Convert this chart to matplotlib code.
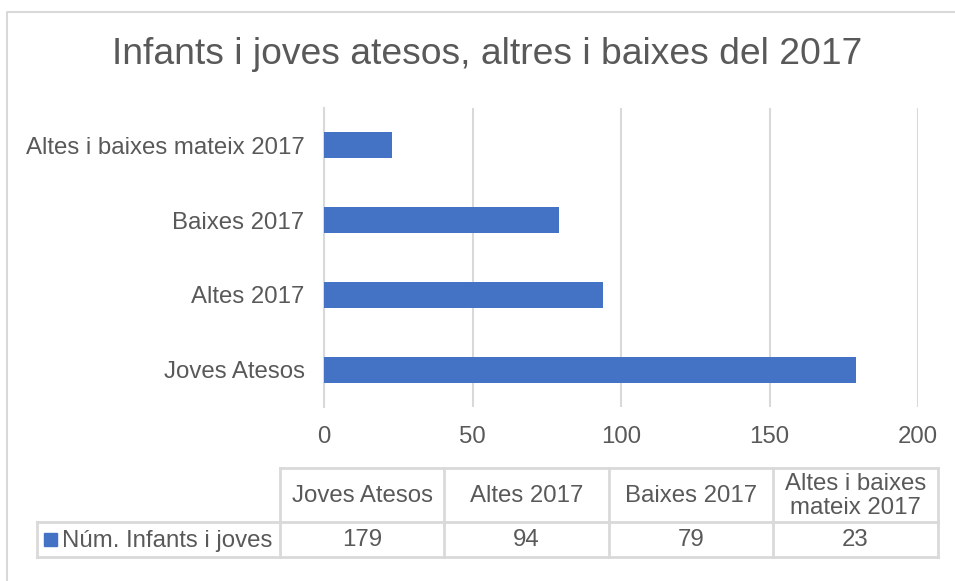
import textwrap
import matplotlib.pyplot as plt
from matplotlib.patches import Rectangle

# data
categories = ["Joves Atesos", "Altes 2017", "Baixes 2017", "Altes i baixes mateix 2017"]
values = [179, 94, 79, 23]
series_name = "Núm. Infants i joves"
title = "Infants i joves atesos, altres i baixes del 2017"
xticks = [0, 50, 100, 150, 200]

W, H = 955, 581
bar_color = "#4472C4"
text_color = "#595959"
grid_color = "#D9D9D9"

plt.rcParams['font.family'] = ['Liberation Sans', 'DejaVu Sans']

fig = plt.figure(figsize=(W / 100, H / 100), dpi=100)

# overlay in pixel coordinates for border, title and data table
ov = fig.add_axes([0, 0, 1, 1])
ov.set_xlim(0, W)
ov.set_ylim(H, 0)
ov.axis('off')

# chart area border (cropped at right and bottom)
ov.plot([7, 7, W + 5], [H + 5, 12, 12], color=grid_color, lw=1.5, solid_capstyle='butt')

ov.text(487, 55, title, ha='center', va='center', fontsize=26.8, color=text_color)

# bar plot
left, right, top, bottom = 324, 918, 108, 407
ax = fig.add_axes([left / W, 1 - bottom / H, (right - left) / W, (bottom - top) / H])
ypos = list(range(len(categories)))
ax.barh(ypos, values, height=0.35, color=bar_color, zorder=3)
ax.set_ylim(-0.5, len(categories) - 0.5)
ax.set_xlim(xticks[0], xticks[-1])
ax.set_xticks(xticks)
ax.set_yticks(ypos)
ax.set_yticklabels(categories)
ax.grid(axis='x', color=grid_color, lw=1.5, zorder=0)
for s in ['top', 'right', 'bottom']:
    ax.spines[s].set_visible(False)
ax.spines['left'].set_color(grid_color)
ax.spines['left'].set_linewidth(1.5)
ax.tick_params(axis='both', length=0, labelsize=17.3, labelcolor=text_color)
ax.tick_params(axis='x', pad=14)
ax.tick_params(axis='y', pad=14)

# data table
col_x = [280, 444, 609, 773, 938]
leg_x0 = 37
row_y = [468, 522, 557]
lw = 2

ov.plot([col_x[0], col_x[-1]], [row_y[0], row_y[0]], color=grid_color, lw=lw)
ov.plot([leg_x0, col_x[-1]], [row_y[1], row_y[1]], color=grid_color, lw=lw)
ov.plot([leg_x0, col_x[-1]], [row_y[2], row_y[2]], color=grid_color, lw=lw)
for x in col_x:
    ov.plot([x, x], [row_y[0], row_y[2]], color=grid_color, lw=lw)
ov.plot([leg_x0, leg_x0], [row_y[1], row_y[2]], color=grid_color, lw=lw)

for i, (cat, val) in enumerate(zip(categories, values)):
    cx = (col_x[i] + col_x[i + 1]) / 2
    ov.text(cx, (row_y[0] + row_y[1]) / 2 + 1, textwrap.fill(cat, 14), ha='center', va='center',
            fontsize=17.3, color=text_color, linespacing=1.1)
    ov.text(cx, (row_y[1] + row_y[2]) / 2 + 1, str(val), ha='center', va='center',
            fontsize=17.3, color=text_color)

# legend key in the table
ov.add_patch(Rectangle((44, 533), 13, 13, color=bar_color))
ov.text(62, (row_y[1] + row_y[2]) / 2 + 1, series_name, ha='left', va='center',
        fontsize=17.3, color=text_color)

fig.savefig("out.png", dpi=100)
